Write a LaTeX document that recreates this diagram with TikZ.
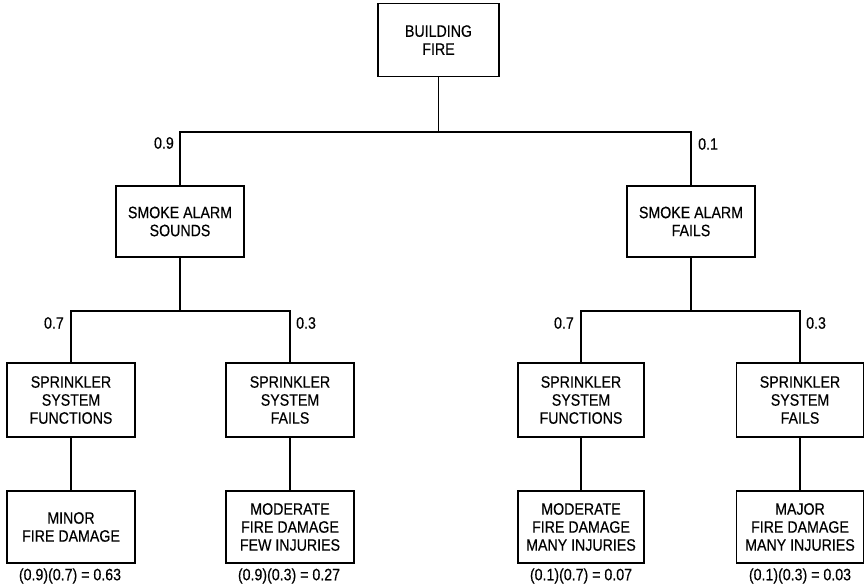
\documentclass[tikz,border=0pt]{standalone}
\usepackage{fontspec}
\setmainfont[FakeStretch=0.86,FakeBold=0.4]{Liberation Sans}
\begin{document}
\begin{tikzpicture}[x=1pt,y=-1pt,
  box/.style={draw,line width=1.4pt,align=center,inner sep=0pt,
    font=\fontsize{16.5}{18}\selectfont,minimum width=128pt},
  lbl/.style={font=\fontsize{16.5}{18}\selectfont,inner sep=0pt},
  con/.style={line width=1.4pt}]
\useasboundingbox (0,0) rectangle (868,587);
% nodes
\node[box,minimum width=121pt,minimum height=73pt] (fire) at (438.5,40) {BUILDING\\FIRE};
\node[box,minimum height=71pt] (sound) at (180,221.5) {SMOKE ALARM\\SOUNDS};
\node[box,minimum height=71pt] (fails) at (691,221.5) {SMOKE ALARM\\FAILS};
\node[box,minimum height=74pt] (s1) at (71,400) {SPRINKLER\\SYSTEM\\FUNCTIONS};
\node[box,minimum height=74pt] (s2) at (290,400) {SPRINKLER\\SYSTEM\\FAILS};
\node[box,minimum height=74pt,minimum width=126pt] (s3) at (581,400) {SPRINKLER\\SYSTEM\\FUNCTIONS};
\node[box,minimum height=74pt,minimum width=127pt] (s4) at (800,400) {SPRINKLER\\SYSTEM\\FAILS};
\node[box,minimum height=72pt] (o1) at (71,527) {MINOR\\FIRE DAMAGE};
\node[box,minimum height=72pt] (o2) at (290,527) {MODERATE\\FIRE DAMAGE\\FEW INJURIES};
\node[box,minimum height=72pt,minimum width=126pt] (o3) at (581,527) {MODERATE\\FIRE DAMAGE\\MANY INJURIES};
\node[box,minimum height=72pt,minimum width=127pt] (o4) at (800,527) {MAJOR\\FIRE DAMAGE\\MANY INJURIES};
% junctions
\coordinate (j1) at (438.5,132);
\coordinate (j2) at (180,311);
\coordinate (j3) at (691,311);
% connectors
\draw[con] (fire.south) -- (j1);
\draw[con] (sound.north) |- (j1) -| (fails.north);
\draw[con] (sound.south) -- (j2);
\draw[con] (s1.north) |- (j2) -| (s2.north);
\draw[con] (fails.south) -- (j3);
\draw[con] (s3.north) |- (j3) -| (s4.north);
\draw[con] (s1.south) -- (o1.north);
\draw[con] (s2.south) -- (o2.north);
\draw[con] (s3.south) -- (o3.north);
\draw[con] (s4.south) -- (o4.north);
% branch probabilities
\node[lbl,anchor=east] (p09) at (174,143) {0.9};
\node[lbl,anchor=west] (p01) at (698,144) {0.1};
\node[lbl,anchor=east] (p07a) at (64,323) {0.7};
\node[lbl,anchor=west] (p03a) at (296,323) {0.3};
\node[lbl,anchor=east] (p07b) at (574,323) {0.7};
\node[lbl,anchor=west] (p03b) at (806,323) {0.3};
% outcome probabilities
\node[lbl] (r1) at (70,576) {(0.9)(0.7) = 0.63};
\node[lbl] (r2) at (289,576) {(0.9)(0.3) = 0.27};
\node[lbl] (r3) at (581,576) {(0.1)(0.7) = 0.07};
\node[lbl] (r4) at (800,576) {(0.1)(0.3) = 0.03};
\end{tikzpicture}
\end{document}
